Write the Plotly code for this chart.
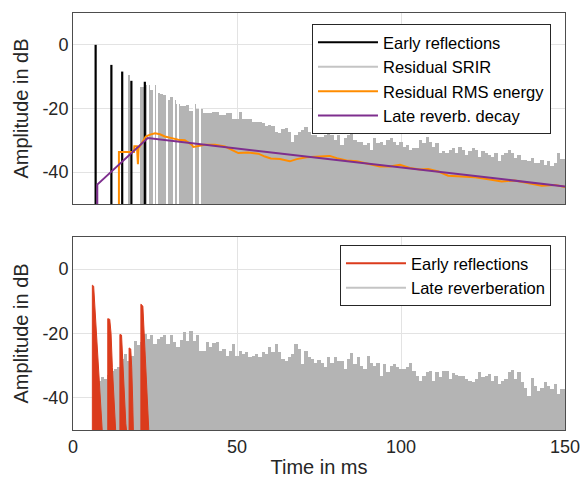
import plotly.graph_objects as go

FLOOR = -50.0

# ---------------- top panel data ----------------
early_t = [6.9, 11.7, 15.0, 17.8, 21.9]
early_db = [0.0, -6.3, -8.4, -11.3, -11.6]

top_gray_t = list(range(21, 151))
top_gray_db = [
    -13.1, -12.6, -12.6, -14.3, -12.6, -15.0, -15.3, -15.7, -17.3, -16.3,
    -17.3, -18.7, -19.2, -19.2, -19.0, -20.9, -18.5, -20.3, -20.3, -21.3,
    -21.5, -21.5, -21.0, -21.0, -22.0, -22.0, -21.5, -21.5, -23.4, -23.4,
    -21.0, -23.2, -23.2, -23.2, -24.2, -24.2, -24.2, -24.7, -25.6, -25.2,
    -25.5, -27.3, -27.8, -26.5, -26.2, -27.3, -30.4, -28.3, -27.3, -26.7,
    -25.7, -27.3, -28.3, -28.3, -28.8, -28.8, -28.3, -26.7, -28.3, -29.9,
    -28.3, -31.4, -29.4, -28.3, -27.3, -29.9, -30.4, -30.4, -31.4, -30.9,
    -33.0, -29.4, -30.9, -30.4, -31.4, -29.9, -29.4, -30.4, -31.4, -30.4,
    -32.0, -31.4, -33.0, -32.5, -32.5, -29.9, -30.9, -28.8, -30.4, -32.0,
    -30.9, -34.0, -33.5, -34.0, -33.0, -32.5, -34.0, -32.0, -33.0, -34.6,
    -33.5, -32.5, -33.0, -35.1, -33.5, -34.0, -34.6, -35.1, -34.0, -36.6,
    -34.6, -34.0, -33.0, -34.0, -35.6, -34.6, -36.1, -36.1, -36.6, -35.6,
    -37.1, -37.1, -36.1, -37.6, -36.6, -38.2, -37.1, -34.0, -36.0, -36.0,
]
top_gray_early_t = [17.2]
top_gray_early_db = [-9.4]
top_gap_t = [22.8, 24.8, 25.6, 28.8, 30.9, 31.9, 36.9, 38.8]
top_gap_top_db = [-10.0] * len(top_gap_t)

rms_t = [14.0, 14.0, 18.6, 18.7, 19.5, 19.8, 20.0, 20.9, 22.2, 23.5, 25.0, 26.5,
         28.0, 30.1, 32.1, 34.1, 36.2, 36.7, 38.2, 40.2, 43.3, 46.3, 48.4, 50.4,
         53.4, 56.5, 58.5, 60.3, 63.1, 66.1, 68.2, 71.2, 75.3, 78.3, 80.4, 83.4,
         86.5, 89.5, 93.6, 96.6, 99.7, 102.7, 105.8, 108.3, 111.4, 114.4, 118.5,
         122.6, 126.6, 130.7, 134.7, 138.8, 142.9, 146.9, 150.0]
rms_db = [-50.0, -33.7, -33.7, -31.9, -31.9, -37.5, -32.5, -31.0, -28.8, -28.2, -27.8, -28.1,
          -28.8, -29.3, -29.8, -30.0, -31.4, -32.1, -31.7, -31.4, -31.4, -31.9, -33.0, -34.0,
          -33.8, -34.2, -35.1, -35.7, -35.9, -36.6, -35.9, -35.3, -35.1, -34.9, -35.6, -36.3,
          -36.6, -37.2, -38.2, -38.2, -37.7, -38.7, -39.2, -39.0, -39.8, -41.1, -41.3,
          -41.6, -42.2, -42.9, -42.6, -43.4, -44.3, -44.0, -44.7]

decay_t = [7.4, 7.4, 22.8, 150.0]
decay_db = [-50.0, -43.9, -29.3, -44.5]

# ---------------- bottom panel data ----------------
bot_gray_t = list(range(8, 151))
bot_gray_db = [
    -34.7, -33.4, -34.2, -33.0, -31.6, -31.0, -30.5, -27.9, -26.4, -28.4,
    -26.9, -22.2, -23.7, -22.5, -20.1, -21.7, -20.6, -23.2, -21.7, -21.1,
    -20.4, -23.2, -20.6, -22.7, -24.3, -22.0, -19.4, -22.2, -19.3, -22.2,
    -20.6, -25.3, -25.3, -22.7, -24.3, -23.0, -22.7, -25.3, -24.8, -26.9,
    -25.3, -23.4, -26.9, -25.3, -26.4, -25.8, -27.4, -26.9, -26.4, -27.4,
    -25.8, -26.4, -24.3, -25.8, -23.2, -25.8, -27.9, -28.4, -27.4, -26.4,
    -23.4, -24.8, -29.5, -25.3, -27.4, -27.9, -29.0, -28.2, -29.0, -30.5,
    -27.4, -29.0, -27.4, -28.4, -28.4, -31.0, -27.9, -26.1, -29.5, -27.4,
    -30.0, -31.0, -26.9, -29.0, -30.0, -29.0, -33.1, -29.5, -32.1, -30.0,
    -29.5, -30.5, -31.0, -31.0, -30.5, -29.0, -31.6, -33.1, -34.7, -33.1,
    -32.1, -31.6, -34.7, -32.1, -33.6, -31.6, -31.6, -34.2, -32.4, -32.8,
    -33.1, -33.1, -34.2, -34.7, -35.2, -34.2, -31.8, -33.6, -33.1, -32.6,
    -34.7, -33.1, -35.7, -34.7, -34.2, -32.1, -31.4, -34.2, -32.1, -35.2,
    -36.8, -39.4, -33.9, -36.3, -37.8, -36.8, -35.2, -36.3, -37.3, -35.7,
    -38.9, -37.3, -37.3,
]

refl1_t = [5.9, 5.9, 6.3, 6.5, 6.7, 7.2, 7.9, 8.5, 8.9]
refl1_db = [-50.0, -5.0, -5.3, -8.6, -15.0, -22.0, -32.5, -44.0, -50.0]
refl2_t = [10.6, 10.6, 11.2, 11.6, 12.0, 12.6, 13.0]
refl2_db = [-50.0, -15.4, -15.6, -20.0, -30.5, -43.0, -50.0]
refl3_t = [14.3, 14.3, 14.8, 15.0, 15.5, 16.1, 16.3]
refl3_db = [-50.0, -20.3, -20.5, -25.5, -35.6, -48.0, -50.0]
refl4_t = [17.1, 17.1, 17.6, 17.9, 18.2, 18.4]
refl4_db = [-50.0, -24.5, -24.8, -30.5, -41.0, -50.0]
refl5_t = [20.7, 20.7, 21.3, 21.5, 22.0, 22.4, 23.0, 23.1]
refl5_db = [-50.0, -10.9, -11.5, -15.9, -25.5, -35.6, -48.8, -50.0]
reflections = [(refl1_t, refl1_db), (refl2_t, refl2_db), (refl3_t, refl3_db),
               (refl4_t, refl4_db), (refl5_t, refl5_db)]

x_ticks = [0, 50, 100, 150]
y_ticks = [-40, -20, 0]
y_ticktext = ["-40", "-20", "0"]

# ---------------- styles ----------------
GRAY = "#b4b4b4"
GRAY_LEG = "#c4c4c4"
BLACK = "#000000"
ORANGE = "#ff8c00"
PURPLE = "#7e2f8e"
RED = "#db3b1c"
FONT = "Liberation Sans, Arial, sans-serif"
TXT = "#262626"
GRID = "#e3e3e3"
FRAME = "#4d4d4d"

fig = go.Figure()

# top: gray residual
fig.add_trace(go.Bar(x=top_gray_t, y=[v - FLOOR for v in top_gray_db], base=FLOOR, width=1.0,
                     marker=dict(color=GRAY, line=dict(width=0)), showlegend=False,
                     hoverinfo="skip", xaxis="x", yaxis="y"))
fig.add_trace(go.Bar(x=top_gray_early_t, y=[v - FLOOR for v in top_gray_early_db], base=FLOOR,
                     width=0.6, marker=dict(color=GRAY, line=dict(width=0)), showlegend=False,
                     hoverinfo="skip", xaxis="x", yaxis="y"))
fig.add_trace(go.Bar(x=top_gap_t, y=[v - FLOOR for v in top_gap_top_db], base=FLOOR,
                     width=0.35, marker=dict(color="white", line=dict(width=0)), showlegend=False,
                     hoverinfo="skip", xaxis="x", yaxis="y"))

ex, ey = [], []
for t, d in zip(early_t, early_db):
    ex += [t, t, None]
    ey += [FLOOR, d, None]
fig.add_trace(go.Scatter(x=ex, y=ey, mode="lines", line=dict(color=BLACK, width=2.2),
                         name="Early reflections", legend="legend", xaxis="x", yaxis="y"))
fig.add_trace(go.Scatter(x=[None], y=[None], mode="lines", line=dict(color=GRAY_LEG, width=2),
                         name="Residual SRIR", legend="legend", xaxis="x", yaxis="y"))
fig.add_trace(go.Scatter(x=rms_t, y=rms_db, mode="lines", line=dict(color=ORANGE, width=2),
                         name="Residual RMS energy", legend="legend", xaxis="x", yaxis="y"))
fig.add_trace(go.Scatter(x=decay_t, y=decay_db, mode="lines", line=dict(color=PURPLE, width=2),
                         name="Late reverb. decay", legend="legend", xaxis="x", yaxis="y"))

# bottom
fig.add_trace(go.Bar(x=bot_gray_t, y=[v - FLOOR for v in bot_gray_db], base=FLOOR, width=1.0,
                     marker=dict(color=GRAY, line=dict(width=0)), showlegend=False,
                     hoverinfo="skip", xaxis="x2", yaxis="y2"))
for rt, rd in reflections:
    fig.add_trace(go.Scatter(x=rt, y=rd, mode="lines", fill="toself", fillcolor=RED,
                             line=dict(color=RED, width=1), showlegend=False,
                             hoverinfo="skip", xaxis="x2", yaxis="y2"))
fig.add_trace(go.Scatter(x=[None], y=[None], mode="lines", line=dict(color=RED, width=2),
                         name="Early reflections", legend="legend2", xaxis="x2", yaxis="y2"))
fig.add_trace(go.Scatter(x=[None], y=[None], mode="lines", line=dict(color=GRAY_LEG, width=2),
                         name="Late reverberation", legend="legend2", xaxis="x2", yaxis="y2"))

axis_common = dict(showgrid=True, gridcolor=GRID, gridwidth=1, zeroline=False,
                   showline=True, mirror=True, linecolor=FRAME, linewidth=1,
                   automargin=False,
                   ticks="", tickfont=dict(family=FONT, size=18, color=TXT))

legend_common = dict(bgcolor="white", bordercolor=TXT, borderwidth=1,
                     font=dict(family=FONT, size=16.5, color="#000000"),
                     xanchor="right", yanchor="top", itemwidth=60, tracegroupgap=0)

fig.update_layout(
    width=581, height=483,
    margin=dict(l=73, r=16, t=13, b=53, autoexpand=False),
    paper_bgcolor="white", plot_bgcolor="white",
    barmode="overlay", bargap=0,
    xaxis=dict(domain=[0, 1], range=[0, 150], anchor="y", tickvals=x_ticks,
               showticklabels=False, **axis_common),
    yaxis=dict(domain=[0.542, 1], range=[-50, 10], anchor="x", tickvals=y_ticks,
               ticktext=y_ticktext,
               title=dict(text="Amplitude in dB", font=dict(family=FONT, size=20, color=TXT),
                          standoff=8),
               **axis_common),
    xaxis2=dict(domain=[0, 1], range=[0, 150], anchor="y2", tickvals=x_ticks,
                title=dict(text="Time in ms", font=dict(family=FONT, size=20, color=TXT),
                           standoff=4),
                **axis_common),
    yaxis2=dict(domain=[0, 0.463], range=[-50, 10], anchor="x2", tickvals=y_ticks,
                ticktext=y_ticktext,
                title=dict(text="Amplitude in dB", font=dict(family=FONT, size=20, color=TXT),
                           standoff=8),
                **axis_common),
    legend=dict(x=0.9715, y=0.9736, **legend_common),
    legend2=dict(x=0.9715, y=0.4436, **legend_common),
    showlegend=True,
)

fig.write_html("out.html")
